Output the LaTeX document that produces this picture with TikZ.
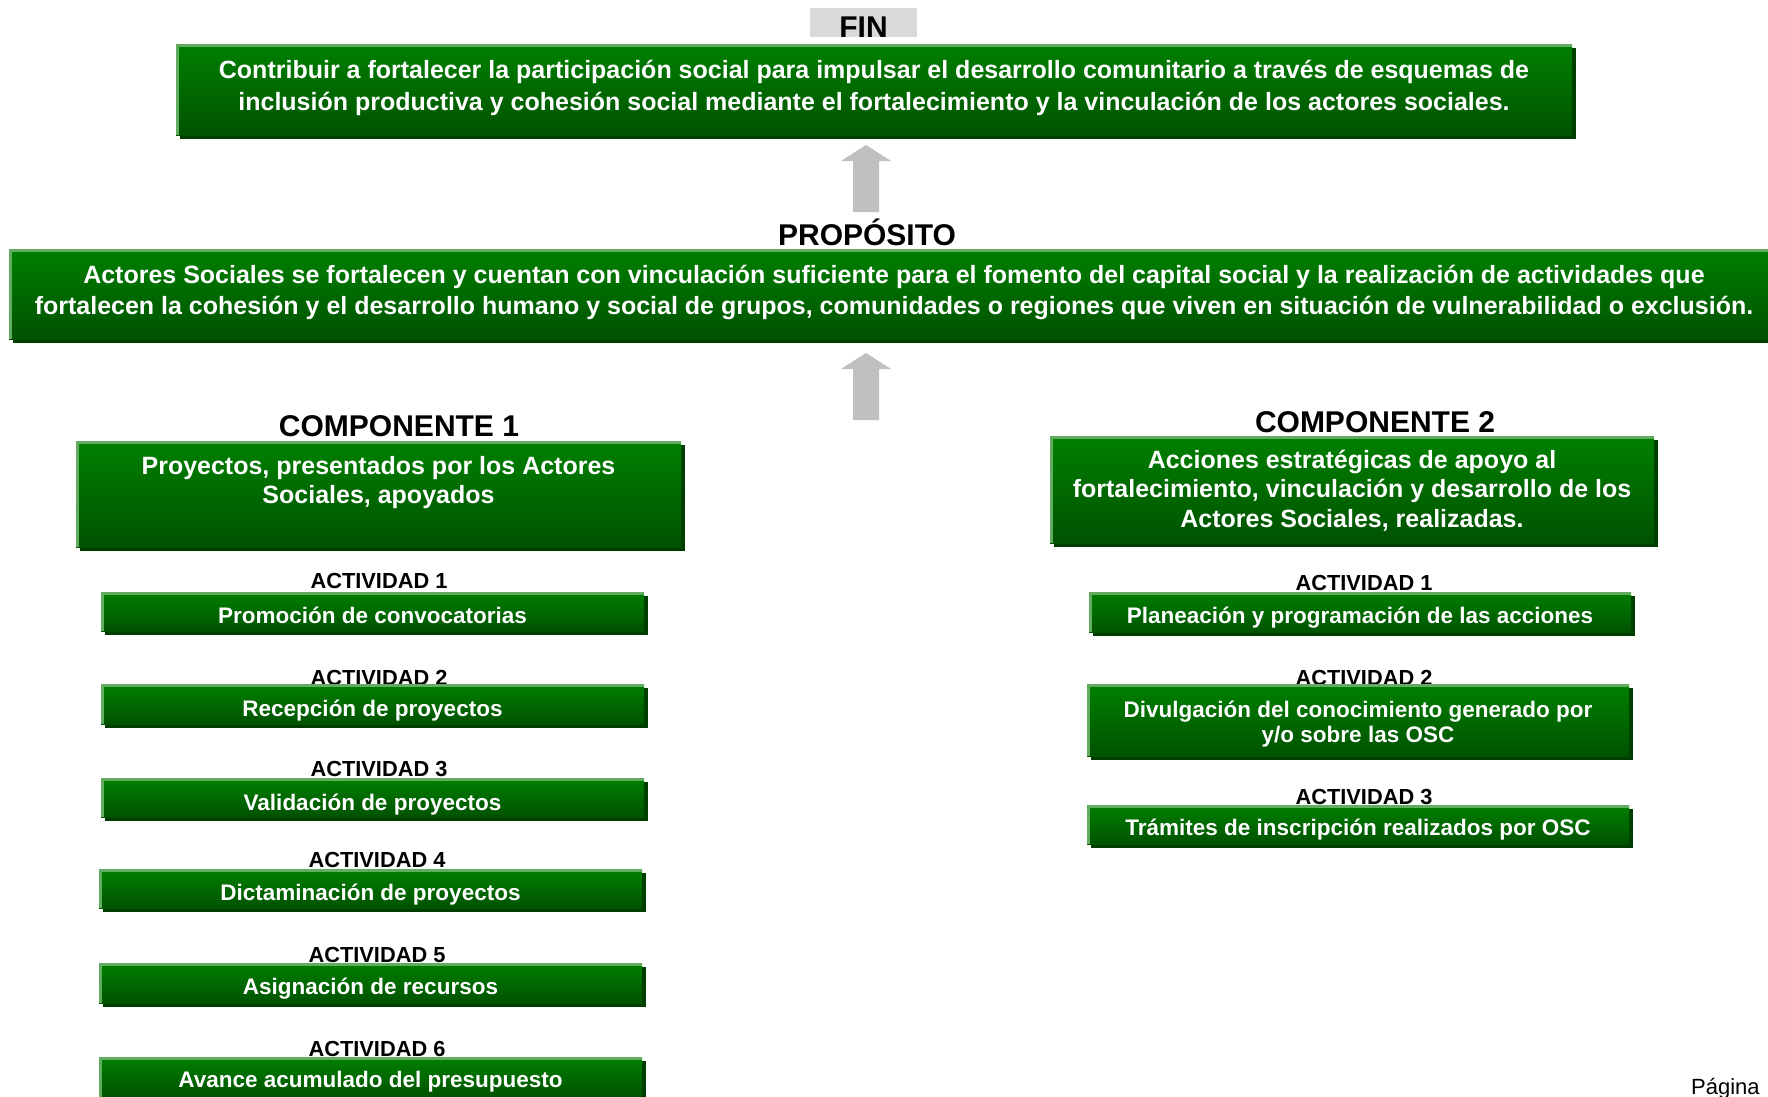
\documentclass[tikz,border=0pt]{standalone}
\usepackage{fontspec}
\setmainfont{Liberation Sans}
\lineskiplimit=-100pt
\definecolor{gtop}{RGB}{0,128,0}
\definecolor{gbot}{RGB}{0,82,0}
\definecolor{glight}{RGB}{98,172,98}
\definecolor{gshadow}{RGB}{0,62,0}
\definecolor{arrowgray}{RGB}{192,192,192}
\definecolor{fingray}{RGB}{217,217,217}
\newcommand\fintxt{\bfseries\fontsize{25}{32}\selectfont}
\newcommand\proptxt{\bfseries\fontsize{25}{31}\selectfont}
\newcommand\comptxt{\bfseries\fontsize{25}{29.75}\selectfont}
\newcommand\acttxt{\bfseries\fontsize{22.5}{25}\selectfont}
\newcommand\actlbltxt{\bfseries\fontsize{21.8}{24}\selectfont}
\newcommand\ttltxt{\bfseries\fontsize{30}{34}\selectfont}
% #1 name, #2 options, #3 x1, #4 y1, #5 x2, #6 y2, #7 first baseline, #8 (lines-1)*skip, #9 text
\newcommand\GreenBox[9]{%
  \pgfmathsetmacro\gbDiff{2*(#7-(#4+#6)/2)+#8}%
  \pgfmathsetmacro\gbA{max(24,\gbDiff+6)}%
  \pgfmathsetmacro\gbD{\gbA-\gbDiff}%
  \pgfmathsetmacro\gbW{#5-#3}%
  \pgfmathsetmacro\gbH{#6-#4}%
  \fill[gshadow] ({#3+4},{#4+4}) rectangle ({#5+4},{#6+4});
  \node[gbox,#2,minimum width=\gbW pt,minimum height=\gbH pt] (#1) at ({(#3+#5)/2},{(#4+#6)/2}) {\rule{0pt}{\gbA pt}#9\rule[-\gbD pt]{0pt}{\gbD pt}};
  \draw[glight,line width=3pt] ([xshift=1.5pt]#1.south west) -- ([xshift=1.5pt,yshift=-1.5pt]#1.north west) -- ([yshift=-1.5pt]#1.north east);
}
\begin{document}
\begin{tikzpicture}[x=1pt,y=-1pt,
  gbox/.style={draw=none,top color=gtop,bottom color=gbot,text=white,align=center,inner sep=0pt},
  ttl/.style={font=\ttltxt,inner sep=0pt,anchor=base},
  actlabel/.style={font=\actlbltxt,inner sep=0pt,anchor=base},
  blockarrow/.style={fill=arrowgray}]
\useasboundingbox (0,0) rectangle (1768,1096);
\fill[white] (0,0) rectangle (1768,1096);

% FIN
\node[fill=fingray,minimum width=107pt,minimum height=27pt,inner sep=0pt,font=\ttltxt,text height=29pt,text depth=0pt] (finlbl) at (863.5,22.5) {FIN};
\GreenBox{fin}{font=\fintxt}{176}{44}{1572}{135}{78}{32}{Contribuir a fortalecer la participación social para impulsar el desarrollo comunitario a través de esquemas de\\inclusión productiva y cohesión social mediante el fortalecimiento y la vinculación de los actores sociales.}

% arrow 1
\coordinate (arrA) at (866,212);
\fill[blockarrow] (arrA) ++(-13,0) -- ++(0,-51) -- ++(-12,0) -- ++(25,-16) -- ++(25,16) -- ++(-12,0) -- ++(0,51) -- cycle;

% PROPOSITO
\node[ttl] (proplbl) at (867,245) {PROPÓSITO};
\GreenBox{prop}{font=\proptxt}{9}{249}{1779}{339}{283}{31}{Actores Sociales se fortalecen y cuentan con vinculación suficiente para el fomento del capital social y la realización de actividades que\\fortalecen la cohesión y el desarrollo humano y social de grupos, comunidades o regiones que viven en situación de vulnerabilidad o exclusión.}

% arrow 2
\coordinate (arrB) at (866,420);
\fill[blockarrow] (arrB) ++(-13,0) -- ++(0,-51) -- ++(-12,0) -- ++(25,-16) -- ++(25,16) -- ++(-12,0) -- ++(0,51) -- cycle;

% COMPONENTE 1
\node[ttl] (c1lbl) at (399,436) {COMPONENTE 1};
\GreenBox{comp1}{font=\comptxt}{76}{441}{681}{547}{474}{29.75}{Proyectos, presentados por los Actores\\Sociales, apoyados}

% COMPONENTE 2
\node[ttl] (c2lbl) at (1375,432) {COMPONENTE 2};
\GreenBox{comp2}{font=\comptxt}{1050}{436}{1654}{543}{468}{59.5}{Acciones estratégicas de apoyo al\\fortalecimiento, vinculación y desarrollo de los\\Actores Sociales, realizadas.}

% Left activities
\node[actlabel] (lal1) at (379,588) {ACTIVIDAD 1};
\GreenBox{la1}{font=\acttxt}{101}{592}{644}{631}{623}{0}{Promoción de convocatorias}
\node[actlabel] (lal2) at (379,685) {ACTIVIDAD 2};
\GreenBox{la2}{font=\acttxt}{101}{684}{644}{724}{716}{0}{Recepción de proyectos}
\node[actlabel] (lal3) at (379,776) {ACTIVIDAD 3};
\GreenBox{la3}{font=\acttxt}{101}{778}{644}{817}{810}{0}{Validación de proyectos}
\node[actlabel] (lal4) at (377,867) {ACTIVIDAD 4};
\GreenBox{la4}{font=\acttxt}{99}{869}{642}{908}{900}{0}{Dictaminación de proyectos}
\node[actlabel] (lal5) at (377,962) {ACTIVIDAD 5};
\GreenBox{la5}{font=\acttxt}{99}{963}{642}{1003}{994}{0}{Asignación de recursos}
\node[actlabel] (lal6) at (377,1056) {ACTIVIDAD 6};
\GreenBox{la6}{font=\acttxt}{99}{1057}{642}{1097}{1087}{0}{Avance acumulado del presupuesto}

% Right activities
\node[actlabel] (ral1) at (1364,590) {ACTIVIDAD 1};
\GreenBox{ra1}{font=\acttxt}{1089}{592}{1631}{632}{623}{0}{Planeación y programación de las acciones}
\node[actlabel] (ral2) at (1364,685) {ACTIVIDAD 2};
\GreenBox{ra2}{font=\acttxt}{1087}{684}{1629}{756}{717}{25}{Divulgación del conocimiento generado por\\y/o sobre las OSC}
\node[actlabel] (ral3) at (1364,804) {ACTIVIDAD 3};
\GreenBox{ra3}{font=\acttxt}{1087}{805}{1629}{844}{835}{0}{Trámites de inscripción realizados por OSC}

% page footer
\node[font=\fontsize{22}{26}\selectfont,inner sep=0pt,anchor=base west] (pagina) at (1691,1094) {Página};
\end{tikzpicture}
\end{document}
